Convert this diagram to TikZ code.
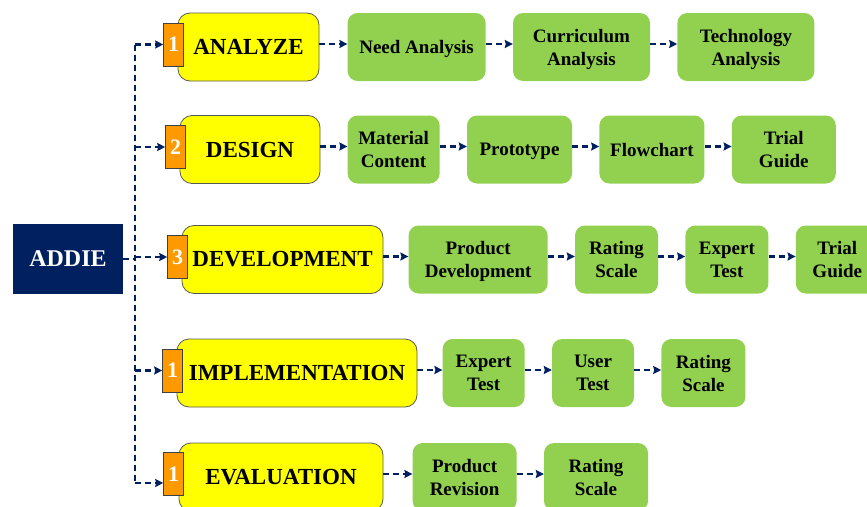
\documentclass[tikz,border=0pt]{standalone}
\usepackage{fontspec}
\setmainfont{Liberation Serif}[BoldFont={Liberation Serif Bold}]
\usetikzlibrary{arrows.meta, positioning}
\definecolor{cNavy}{RGB}{0,32,96}
\definecolor{cYellow}{RGB}{255,255,0}
\definecolor{cOrange}{RGB}{255,153,0}
\definecolor{cGreen}{RGB}{146,208,80}
\tikzset{
	root/.style ={rectangle, fill=cNavy, text=white, minimum width=110pt, minimum height=70pt, font=\bfseries\fontsize{24}{26}\selectfont},
	phase/.style={rectangle, rounded corners=12pt, draw=gray!70!black, line width=0.8pt, fill=cYellow, minimum height=68pt, font=\bfseries\fontsize{23}{25}\selectfont},
	tab/.style  ={rectangle, draw=gray!50!black, line width=0.8pt, fill=cOrange, text=white, minimum width=20pt, minimum height=43pt, inner sep=0pt, font=\bfseries\fontsize{22}{24}\selectfont},
	% descenders ignored, so every task box has its lines at one height
	task/.style ={rectangle, rounded corners=10pt, fill=cGreen, minimum height=68pt, align=center, inner sep=2pt, text depth=0pt, font=\bfseries\fontsize{19}{23}\selectfont},
	trunk/.style={cNavy, line width=2.6pt, dash pattern=on 6pt off 4pt},
	link/.style ={trunk, -{Stealth[length=8pt, width=8pt, inset=1pt]}},
	row/.style  ={link, transform canvas={yshift=3pt}},
}
\begin{document}
\begin{tikzpicture}[x=1pt, y=-1pt, node distance=27pt]
	\useasboundingbox (0,0) rectangle (867,506);
	\clip (0,0) rectangle (867,506);
	% root and the five phases
	\node[root] (addie) at (68,259) {ADDIE};
	\node[phase, minimum width=141pt] (ph1) at (248.5,47) {ANALYZE};
	\node[phase, minimum width=140pt] (ph2) at (250,149.5) {DESIGN};
	\node[phase, minimum width=201pt] (ph3) at (282.5,259.5) {DEVELOPMENT};
	\node[phase, minimum width=240pt] (ph4) at (297,373) {IMPLEMENTATION};
	\node[phase, minimum width=204pt] (ph5) at (281,477) {EVALUATION};
	\node[tab] (n1) at ([xshift=-4pt, yshift=2.5pt]ph1.west) {1};
	\node[tab] (n2) at ([xshift=-4pt, yshift=2.5pt]ph2.west) {2};
	\node[tab] (n3) at ([xshift=-4pt, yshift=2.5pt]ph3.west) {3};
	\node[tab] (n4) at ([xshift=-4pt, yshift=2.5pt]ph4.west) {1};
	\node[tab] (n5) at ([xshift=-5pt, yshift=3pt]ph5.west) {1};
	% tasks of each phase
	\node[task, minimum width=138pt, right=28pt of ph1] (need) {Need Analysis};
	\node[task, minimum width=137pt, right=of need] (curr) {Curriculum\\ Analysis};
	\node[task, minimum width=137pt, right=of curr] (tech) {Technology\\ Analysis};
	\node[task, minimum width=92pt, right=of ph2] (mat) {Material\\ Content};
	\node[task, minimum width=105pt, right=of mat] (proto) {Prototype};
	\node[task, minimum width=105pt, right=of proto] (flow) {Flowchart};
	\node[task, minimum width=104pt, right=of flow] (trial1) {Trial\\ Guide};
	\node[task, minimum width=139pt, right=25pt of ph3] (prod) {Product\\ Development};
	\node[task, minimum width=83pt, right=of prod] (rate1) {Rating\\ Scale};
	\node[task, minimum width=83pt, right=of rate1] (exp1) {Expert\\ Test};
	\node[task, minimum width=83pt, right=of exp1] (trial2) {Trial\\ Guide};
	\node[task, minimum width=82pt, right=25pt of ph4] (exp2) {Expert\\ Test};
	\node[task, minimum width=82pt, right=of exp2] (user) {User\\ Test};
	\node[task, minimum width=84pt, right=of user] (rate2) {Rating\\ Scale};
	\node[task, minimum width=104pt, right=29pt of ph5] (rev) {Product\\ Revision};
	\node[task, minimum width=104pt, right=of rev] (rate3) {Rating\\ Scale};
	% dashed tree from the root
	\coordinate (jn) at (135,259);
	\coordinate (bot) at (135,483);
	\draw[trunk] (addie.east) -- (jn);
	\draw[trunk] (jn |- n1.west) -- (bot);
	\draw[link] (jn |- n1.west) -- (n1.west);
	\draw[link] (jn |- n2.west) -- (n2.west);
	\draw[link] (jn |- n3.west) -- (n3.west);
	\draw[link] (jn |- n4.west) -- (n4.west);
	\draw[link] (bot) -- (n5.west |- bot);
	% chains along each row
	\draw[row] (ph1) -- (need);
	\draw[row] (need) -- (curr);
	\draw[row] (curr) -- (tech);
	\draw[row] (ph2) -- (mat);
	\draw[row] (mat) -- (proto);
	\draw[row] (proto) -- (flow);
	\draw[row] (flow) -- (trial1);
	\draw[row] (ph3) -- (prod);
	\draw[row] (prod) -- (rate1);
	\draw[row] (rate1) -- (exp1);
	\draw[row] (exp1) -- (trial2);
	\draw[row] (ph4) -- (exp2);
	\draw[row] (exp2) -- (user);
	\draw[row] (user) -- (rate2);
	\draw[row] (ph5) -- (rev);
	\draw[row] (rev) -- (rate3);
\end{tikzpicture}
\end{document}
